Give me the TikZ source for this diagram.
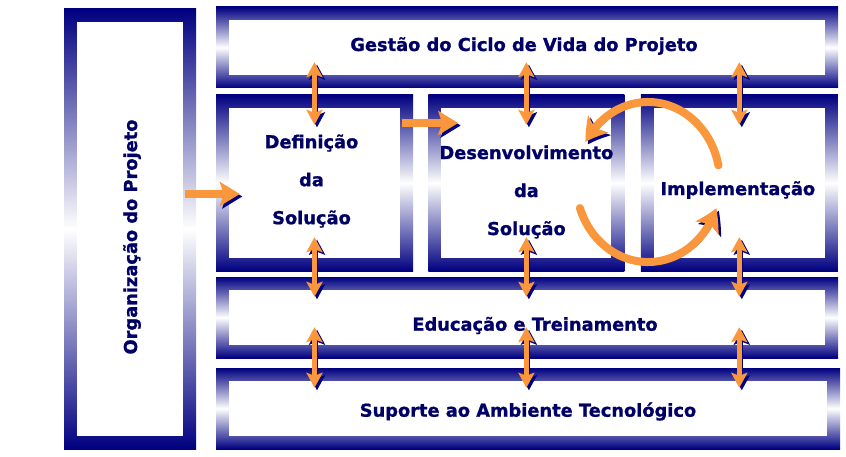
\documentclass[tikz,border=0pt]{standalone}
\usepackage{graphicx}
\usepackage{fontspec}
\setmainfont{DejaVu Sans}
\newfontfamily\boxfont{DejaVu Sans Bold}[FakeBold=1]
\usetikzlibrary{positioning,calc,arrows.meta,bending}

\definecolor{navy}{RGB}{0,0,128}
\definecolor{txtnavy}{RGB}{0,0,102}
\definecolor{orng}{RGB}{250,150,60}

\tikzset{
  frbox/.style={shade, top color=navy, bottom color=navy, middle color=white, inner sep=0pt,
    path picture={\fill[white] ([shift={(13pt,-13pt)}]path picture bounding box.north west)
      rectangle ([shift={(-13pt,13pt)}]path picture bounding box.south east);}},
  lbl/.style={inner sep=0pt, text=txtnavy, align=center, font=\boxfont\fontsize{17.8}{38}\selectfont},
  shadowed/.style={preaction={draw=navy, transform canvas={shift={(2.5pt,-2.5pt)}}}},
  varrow/.style={draw=orng, line width=5pt, shadowed,
    {Stealth[length=15pt,width=16pt,inset=3pt]}-{Stealth[length=15pt,width=16pt,inset=3pt]}},
  harrow/.style={draw=orng, line width=8pt, shadowed,
    -{Stealth[length=20pt,width=24pt,inset=4pt]}},
  carrow/.style={draw=orng, line width=8pt, shadowed, line cap=round,
    -{Stealth[length=22pt,width=26pt,inset=5pt,bend]}}
}

\begin{document}
\begin{tikzpicture}[x=1pt,y=-1pt]
  \useasboundingbox (0,0) rectangle (846,457);

  % boxes
  \node[frbox, minimum width=132pt, minimum height=440pt] (org) at (130,229) {};
  \node[frbox, minimum width=622pt, minimum height=81pt] (gestao) at (527,47.5) {};
  \node[frbox, minimum width=197pt, minimum height=176pt] (def) at (314.5,183) {};
  \node[frbox, minimum width=196pt, minimum height=176pt, right=15pt of def] (des) {};
  \node[frbox, minimum width=197pt, minimum height=176pt, right=16pt of des] (imp) {};
  \node[frbox, minimum width=622pt, minimum height=81pt] (educ) at (527,317.5) {};
  \node[frbox, minimum width=624pt, minimum height=81pt] (sup) at (528,408.5) {};

  % texts
  \node[lbl] (torg) at ($(org)+(2,8)$) {\rotatebox{90}{Organização do Projeto}};
  \node[lbl] (tgestao) at ($(gestao)+(-3,-1.5)$) {Gestão do Ciclo de Vida do Projeto};
  \node[lbl] (tdef) at ($(def)+(-3,-2)$) {Definição\\da\\Solução};
  \node[lbl] (tdes) at ($(des)+(0,9)$) {Desenvolvimento\\da\\Solução};
  \node[lbl] (timp) at ($(imp)+(-1.5,7)$) {Implementação};
  \node[lbl] (teduc) at ($(educ)+(8,8)$) {Educação e Treinamento};
  \node[lbl] (tsup) at ($(sup)+(0,3)$) {Suporte ao Ambiente Tecnológico};

  % vertical arrows
  \foreach \b in {def,des,imp} {
    \draw[varrow] ($(gestao.south -| \b.center)+(0,-26)$) -- ($(\b.north)+(0,30)$);
    \draw[varrow] ($(\b.south)+(0,-34)$) -- ($(educ.north -| \b.center)+(0,20)$);
    \draw[varrow] ($(educ.south -| \b.center)+(0,-31)$) -- ($(sup.north -| \b.center)+(0,20)$);
  }

  % horizontal arrows
  \draw[harrow] ($(org.east |- def.center)+(-11,11)$) -- ($(def.west)+(24,11)$);
  \draw[harrow] ($(def.east)+(-11,-60)$) -- ($(des.west)+(30,-60)$);

  % cycle
  \coordinate (cyc) at (648,182);
  \draw[carrow] ([shift={(-12:72 and 80)}]cyc) arc[start angle=-12, end angle=-150, x radius=72, y radius=80];
  \draw[carrow] ([shift={(161:72 and 80)}]cyc) arc[start angle=161, end angle=19, x radius=72, y radius=80];
\end{tikzpicture}
\end{document}
